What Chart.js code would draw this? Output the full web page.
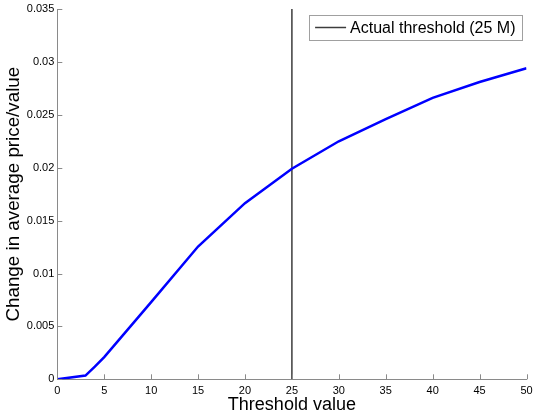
<!DOCTYPE html>
<html lang="en">
<head>
  <meta charset="UTF-8">
  <title>Threshold sensitivity</title>
  <script src="https://cdn.jsdelivr.net/npm/chart.js"></script>
  <style>
    html, body { margin: 0; padding: 0; background: #fff; }
    #wrap { width: 534px; height: 416px; }
  </style>
</head>
<body>
  <div id="wrap"><canvas id="plot"></canvas></div>
  <script>
    // threshold (M) vs change in average price/value
    const thresholds = [0, 3, 4, 5, 10, 15, 20, 25, 30, 35, 40, 45, 50];
    const priceChange = [0, 0.00035, 0.0012, 0.0021, 0.0073, 0.01255, 0.01665, 0.0199, 0.0225, 0.0246, 0.0266, 0.0281, 0.0294];

    const actualThreshold = 25;
    const yRange = [0, 0.035];
    const xRange = [0, 50];

    const AXIS_GREY = '#8a8a8a';
    const FONT = 'Arial, "Liberation Sans", Helvetica, sans-serif';

    // matlab style tick marks pointing into the plot
    const inwardTicks = {
      id: 'inwardTicks',
      afterDatasetsDraw(chart) {
        const { ctx, chartArea, scales } = chart;
        ctx.save();
        ctx.strokeStyle = AXIS_GREY;
        ctx.lineWidth = 1;
        ctx.beginPath();
        scales.x.ticks.forEach(t => {
          const px = Math.round(scales.x.getPixelForValue(t.value)) + 0.5;
          ctx.moveTo(px, chartArea.bottom);
          ctx.lineTo(px, chartArea.bottom - 5);
        });
        scales.y.ticks.forEach(t => {
          const py = Math.round(scales.y.getPixelForValue(t.value)) + 0.5;
          ctx.moveTo(chartArea.left, py);
          ctx.lineTo(chartArea.left + 5, py);
        });
        ctx.stroke();
        ctx.restore();
      }
    };

    // boxed legend in the top right corner, only for the threshold line
    const boxLegend = {
      id: 'boxLegend',
      afterDraw(chart) {
        const { ctx, chartArea } = chart;
        const ds = chart.data.datasets[1];
        ctx.save();
        ctx.font = '16px ' + FONT;
        const tw = ctx.measureText(ds.label).width;
        const w = 6 + 31 + 4 + tw + 7;
        const h = 25;
        const right = chartArea.right - 4;
        const left = right - w;
        const top = chartArea.top + 6;
        ctx.fillStyle = '#fff';
        ctx.fillRect(left, top, w, h);
        ctx.strokeStyle = '#a0a0a0';
        ctx.lineWidth = 1;
        ctx.strokeRect(Math.round(left) + 0.5, Math.round(top) + 0.5, Math.round(w), h);
        const cy = top + h / 2;
        ctx.strokeStyle = ds.borderColor;
        ctx.lineWidth = ds.borderWidth;
        ctx.beginPath();
        ctx.moveTo(left + 6, cy);
        ctx.lineTo(left + 37, cy);
        ctx.stroke();
        ctx.fillStyle = '#000';
        ctx.textBaseline = 'middle';
        ctx.fillText(ds.label, left + 41, cy + 1);
        ctx.restore();
      }
    };

    new Chart(document.getElementById('plot'), {
      type: 'line',
      data: {
        datasets: [{
          label: 'Change',
          data: thresholds.map((t, i) => ({ x: t, y: priceChange[i] })),
          borderColor: '#0000ff',
          borderWidth: 2.5,
          pointRadius: 0,
          tension: 0
        }, {
          label: 'Actual threshold (25 M)',
          data: [{ x: actualThreshold, y: yRange[0] }, { x: actualThreshold, y: yRange[1] }],
          borderColor: '#3c3c3c',
          borderWidth: 1.5,
          pointRadius: 0
        }]
      },
      options: {
        responsive: true,
        maintainAspectRatio: false,
        animation: false,
        layout: { padding: { top: 9, right: 7.5, left: 0, bottom: 0 } },
        plugins: {
          legend: { display: false },
          tooltip: { enabled: false }
        },
        scales: {
          x: {
            type: 'linear',
            min: xRange[0],
            max: xRange[1],
            afterFit(scale) {
              scale.height = 36.7;
              scale.paddingLeft = 0;
              scale.paddingRight = 0;
            },
            grid: { display: false, drawTicks: false },
            border: { color: AXIS_GREY, width: 1 },
            ticks: {
              stepSize: 5,
              padding: 5,
              color: '#000',
              maxRotation: 0,
              font: { family: FONT, size: 11 }
            },
            title: {
              display: true,
              text: 'Threshold value',
              color: '#000',
              font: { family: FONT, size: 18, lineHeight: 1 },
              padding: { top: 0, bottom: 2 }
            }
          },
          y: {
            min: yRange[0],
            max: yRange[1],
            afterFit(scale) {
              scale.width = 57.3;
              scale.paddingTop = 0;
              scale.paddingBottom = 0;
            },
            grid: { display: false, drawTicks: false },
            border: { color: AXIS_GREY, width: 1 },
            ticks: {
              stepSize: 0.005,
              padding: 3,
              color: '#000',
              font: { family: FONT, size: 11 },
              callback: v => Number(v.toFixed(3)).toString()
            },
            title: {
              display: true,
              text: 'Change in average price/value',
              color: '#000',
              font: { family: FONT, size: 18.8, lineHeight: 1 },
              padding: { top: 4, bottom: 0 }
            }
          }
        }
      },
      plugins: [inwardTicks, boxLegend]
    });
  </script>
</body>
</html>
